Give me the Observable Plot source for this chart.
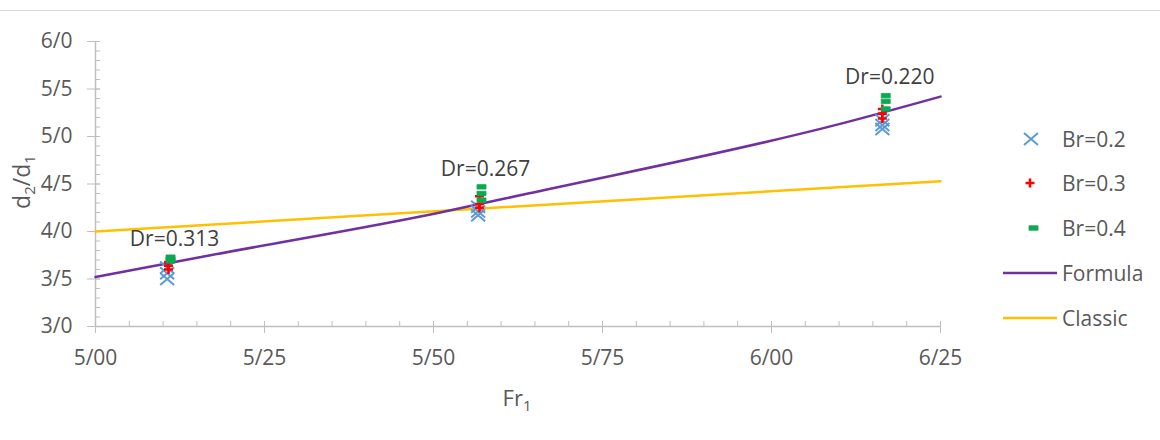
<!DOCTYPE html>
<html><head><meta charset="utf-8">
<script src="https://cdn.jsdelivr.net/npm/d3@7"></script>
<script src="https://cdn.jsdelivr.net/npm/@observablehq/plot@0.6"></script>
<style>
body{margin:0;background:#fff;}
#chart{width:1160px;height:440px;}
</style></head><body><div id="chart"></div>
<script>
// ---- data ----
const frBr02 = [5.106, 5.106, 5.106, 5.566, 5.566, 5.566, 6.164, 6.164, 6.164];
const valBr02 = [3.62, 3.56, 3.50, 4.26, 4.21, 4.17, 5.17, 5.12, 5.08];
const frBr03 = [5.108, 5.108, 5.108, 5.568, 5.568, 5.568, 6.164, 6.164, 6.164];
const valBr03 = [3.68, 3.64, 3.60, 4.37, 4.29, 4.25, 5.29, 5.24, 5.19];
const frBr04 = [5.111, 5.111, 5.111, 5.571, 5.571, 5.571, 6.169, 6.169, 6.169];
const valBr04 = [3.73, 3.71, 3.69, 4.47, 4.40, 4.33, 5.43, 5.37, 5.29];
const frFormula = [5.00, 5.17, 5.51, 5.64, 6.10, 6.25];
const valFormula = [3.52, 3.75, 4.20, 4.40, 5.13, 5.42];
const frClassic = [5.00, 6.25];
const valClassic = [4.00, 4.53];
const drLabels = ["Dr=0.313", "Dr=0.267", "Dr=0.220"];
const drFr = [5.111, 5.571, 6.169];
const drTop = [3.73, 4.47, 5.43];
const xTicks = [5.00, 5.25, 5.50, 5.75, 6.00, 6.25];
const yTicks = [3.0, 3.5, 4.0, 4.5, 5.0, 5.5, 6.0];
const xMinor = d3.range(0, 26).map(i => 5 + i * 0.05);
const yMinor = d3.range(0, 31).map(i => 3 + i * 0.1);
const legendNames = ["Br=0.2", "Br=0.3", "Br=0.4", "Formula", "Classic"];

// ---- styles ----
const FONT = "'Open Sans', sans-serif";
const FS = 21;
const TXT = "#595959";
const AX = "#BFBFBF";
const C02 = "#5B9BD5", C03 = "#FF0000", C04 = "#00B050", CF = "#7030A0", CC = "#FFC000";

const pts = (xs, ys) => xs.map((x, i) => ({x, y: ys[i]}));
const symTimes = {draw(c){ c.moveTo(-7,-6); c.lineTo(7,6); c.moveTo(-7,6); c.lineTo(7,-6); }};
const symPlus = {draw(c){ c.moveTo(-4.5,0); c.lineTo(4.5,0); c.moveTo(0,-4.5); c.lineTo(0,4.5); }};
const symDash = {draw(c){ c.rect(-4.5,-2.2,9,4.4); }};
const fmtX = d => d3.format(".2f")(d).replace(".", "/");
const fmtY = d => d3.format(".1f")(d).replace(".", "/");

const plot = Plot.plot({
  width: 1160, height: 440,
  marginLeft: 95, marginRight: 220, marginTop: 41, marginBottom: 114,
  style: {fontFamily: FONT, fontSize: FS + "px", color: TXT, background: "#fff"},
  x: {domain: [5, 6.25], label: null},
  y: {domain: [3, 6], label: null},
  marks: [
    // inward minor ticks
    Plot.axisX({ticks: xMinor, tickSize: 5, dy: -5, fill: "none", stroke: AX, label: null}),
    Plot.axisY({ticks: yMinor, tickSize: 5, dx: 5, fill: "none", stroke: AX, label: null}),
    // major ticks (crossing the axis line)
    Plot.axisX({ticks: xTicks, tickSize: 12, dy: -5, fill: "none", stroke: AX, label: null}),
    Plot.axisY({ticks: yTicks, tickSize: 13, dx: 5, fill: "none", stroke: AX, label: null}),
    // tick labels
    Plot.axisX({ticks: xTicks, tickSize: 7, tickPadding: 17, tickFormat: fmtX, stroke: "none", fill: TXT, label: null}),
    Plot.axisY({ticks: yTicks, tickSize: 8, tickPadding: 15, tickFormat: fmtY, stroke: "none", fill: TXT, label: null}),
    Plot.ruleY([3], {x1: 5, x2: 6.25, stroke: AX, strokeWidth: 1.5}),
    Plot.ruleX([5], {y1: 3, y2: 6, stroke: AX, strokeWidth: 1.5}),
    Plot.line(pts(frClassic, valClassic), {x: "x", y: "y", stroke: CC, strokeWidth: 2.5}),
    Plot.line(pts(frFormula, valFormula), {x: "x", y: "y", stroke: CF, strokeWidth: 2.5, curve: "monotone-x"}),
    Plot.dot(pts(frBr02, valBr02), {x: "x", y: "y", symbol: symTimes, stroke: C02, strokeWidth: 2, fill: "none"}),
    Plot.dot(pts(frBr03, valBr03), {x: "x", y: "y", symbol: symPlus, stroke: C03, strokeWidth: 2.5, fill: "none"}),
    Plot.dot(pts(frBr04, valBr04), {x: "x", y: "y", symbol: symDash, fill: C04, stroke: "#1F9E55", strokeWidth: 0.8}),
    Plot.text(drLabels.map((t, i) => ({t, x: drFr[i], y: drTop[i]})), {x: "x", y: "y", text: "t", dx: 4, dy: -18, fill: "#404040", fontSize: FS, fontFamily: FONT})
  ]
});
document.getElementById("chart").appendChild(plot);

// extra decoration / axis titles / legend
const svg = d3.select(plot);
svg.append("line").attr("x1", 0).attr("x2", 1160).attr("y1", 10.5).attr("y2", 10.5).attr("stroke", "#D9D9D9");

const yl = svg.append("text").attr("transform", "translate(30,182) rotate(-90)")
  .attr("text-anchor", "middle").attr("fill", TXT).attr("font-family", FONT).attr("font-size", 23);
yl.append("tspan").text("d");
yl.append("tspan").attr("font-size", 15).attr("dy", 5).text("2");
yl.append("tspan").attr("dy", -5).text("/d");
yl.append("tspan").attr("font-size", 15).attr("dy", 5).text("1");

const xl = svg.append("text").attr("x", 517).attr("y", 406)
  .attr("text-anchor", "middle").attr("fill", TXT).attr("font-family", FONT).attr("font-size", 22);
xl.append("tspan").text("Fr");
xl.append("tspan").attr("font-size", 15).attr("dy", 5).text("1");

const lg = svg.append("g").attr("font-family", FONT).attr("font-size", FS).attr("fill", TXT).attr("text-anchor", "start");
const rowY = [139, 183, 228, 273, 318];
legendNames.forEach((name, i) => {
  const y = rowY[i];
  const g = lg.append("g");
  if (i === 0) g.append("path").attr("d", `M${1031-7},${y-6}L${1031+7},${y+6}M${1031-7},${y+6}L${1031+7},${y-6}`).attr("stroke", C02).attr("stroke-width", 2).attr("fill", "none");
  if (i === 1) g.append("path").attr("d", `M${1030-4.5},${y}h9M1030,${y-4.5}v9`).attr("stroke", C03).attr("stroke-width", 2.5).attr("fill", "none");
  if (i === 2) g.append("rect").attr("x", 1029).attr("y", y - 2.2).attr("width", 9).attr("height", 4.4).attr("fill", C04).attr("stroke", "#1F9E55").attr("stroke-width", 0.8);
  if (i === 3) g.append("line").attr("x1", 1003).attr("x2", 1057).attr("y1", y).attr("y2", y).attr("stroke", CF).attr("stroke-width", 2.5);
  if (i === 4) g.append("line").attr("x1", 1003).attr("x2", 1057).attr("y1", y).attr("y2", y).attr("stroke", CC).attr("stroke-width", 2.5);
  g.append("text").attr("x", 1062).attr("y", y).attr("dy", "0.36em").text(name);
});
</script>
</body></html>
